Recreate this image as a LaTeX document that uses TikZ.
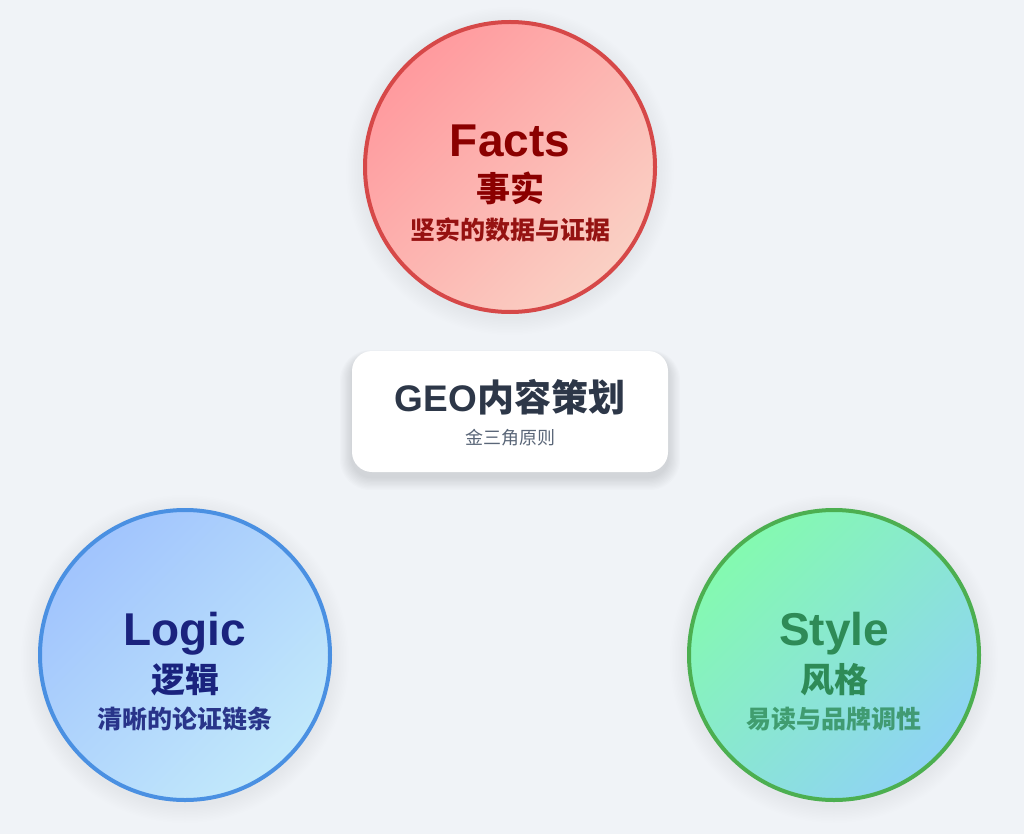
\documentclass[tikz,border=0pt]{standalone}
\usepackage{fontspec}
\setmainfont{Liberation Sans}
\newfontfamily\cjk{Noto Sans CJK SC}
\usetikzlibrary{positioning}

\definecolor{bgcolor}{HTML}{F0F3F7}
\definecolor{factsA}{HTML}{FF9A9E}
\definecolor{factsB}{HTML}{FAD0C4}
\definecolor{factsline}{HTML}{D64848}
\definecolor{factstext}{HTML}{8B0000}
\definecolor{logicA}{HTML}{A1C4FD}
\definecolor{logicB}{HTML}{C2E9FB}
\definecolor{logicline}{HTML}{4A90E2}
\definecolor{logictext}{HTML}{1A237E}
\definecolor{styleA}{HTML}{84FAB0}
\definecolor{styleB}{HTML}{8FD3F4}
\definecolor{styleline}{HTML}{4CAF50}
\definecolor{styletext}{HTML}{2E8B57}
\definecolor{coretext}{HTML}{2D3748}
\definecolor{coresub}{HTML}{5A6678}

\begin{document}
\begin{tikzpicture}[
    x=1pt, y=-1pt,
    bubble/.style n args={3}{
        circle,
        inner sep=0pt,
        minimum size=290pt,
        line width=4pt,
        draw=#1,
        top color=#2,
        bottom color=#3,
        shading angle=45
    },
    card/.style={
        rectangle,
        fill=white,
        rounded corners=20pt,
        minimum width=316pt,
        minimum height=121pt,
        inner sep=0pt
    },
    entitle/.style={anchor=base, font=\bfseries\fontsize{46}{50}\selectfont},
    zhtitle/.style={anchor=base, font=\cjk\bfseries\fontsize{34}{38}\selectfont},
    zhnote/.style={anchor=base, font=\cjk\bfseries\fontsize{25}{29}\selectfont, opacity=0.9}
]

% Background
\fill[bgcolor] (0,0) rectangle (1024,834);
\useasboundingbox (0,0) rectangle (1024,834);

% Soft shadows
\foreach \cx/\cy in {510/171, 185/659, 834/659} {
    \foreach \r in {1,...,12}
        \fill[black, opacity=0.005] (\cx,\cy) circle[radius=146pt+\r*1.5pt];
}
\foreach \r in {1,...,10}
    \fill[black, opacity=0.012, rounded corners=20pt+\r*1pt]
        (352-\r*1.2,356-\r*0.6) rectangle (668+\r*1.2,477+\r*1.3);

% Three bubbles
\node [bubble={factsline}{factsA}{factsB}] (facts) at (510,167) {};
\node [bubble={logicline}{logicA}{logicB}] (logic) at (185,655) {};
\node [bubble={styleline}{styleA}{styleB}] (style) at (834,655) {};

% Center card
\node [card] (core) at (510,411.5) {};

% Bubble texts
\node [entitle, text=factstext] (facts-en) at ([yshift=10pt]facts.center) {Facts};
\node [zhtitle, text=factstext] (facts-zh) at ([yshift=-35pt]facts.center) {事实};
\node [zhnote, text=factstext] (facts-note) at ([yshift=-73pt]facts.center) {坚实的数据与证据};

\node [entitle, text=logictext] (logic-en) at ([yshift=10pt]logic.center) {Logic};
\node [zhtitle, text=logictext] (logic-zh) at ([yshift=-37pt]logic.center) {逻辑};
\node [zhnote, text=logictext] (logic-note) at ([yshift=-73pt]logic.center) {清晰的论证链条};

\node [entitle, text=styletext] (style-en) at ([yshift=10pt]style.center) {Style};
\node [zhtitle, text=styletext] (style-zh) at ([yshift=-37pt]style.center) {风格};
\node [zhnote, text=styletext, opacity=0.8] (style-note) at ([yshift=-73pt]style.center) {易读与品牌调性};

% Card texts
\node [anchor=base, text=coretext, font=\bfseries\fontsize{37}{42}\selectfont] (core-title)
    at ([yshift=0pt]core.center) {GEO{\cjk 内容策划}};
\node [anchor=base, text=coresub, font=\cjk\fontsize{18}{22}\selectfont] (core-sub)
    at ([yshift=-33pt]core.center) {金三角原则};

\end{tikzpicture}
\end{document}
